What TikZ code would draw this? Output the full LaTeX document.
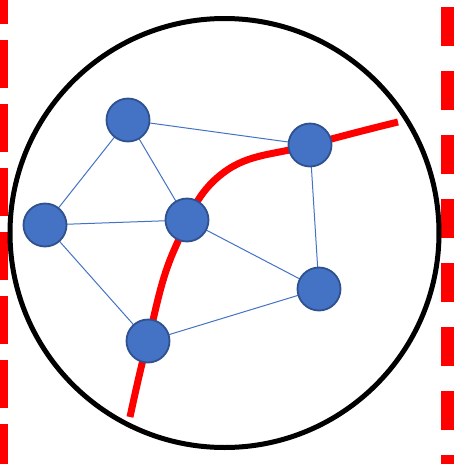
\documentclass[tikz,border=0pt]{standalone}
\definecolor{nodeblue}{HTML}{4472C4}
\definecolor{nodeborder}{HTML}{2F528F}
\begin{document}
\begin{tikzpicture}[x=1pt,y=-1pt,
  vertex/.style={circle,fill=nodeblue,draw=nodeborder,line width=1.8pt,minimum size=43pt,inner sep=0pt},
  link/.style={draw=nodeblue,line width=1pt},
  redline/.style={draw=red,line width=7pt}]
\useasboundingbox (0,0) rectangle (454,464);
\fill[white] (0,0) rectangle (454,464);
% dashed borders
\draw[red,line width=8pt,dash pattern=on 48pt off 16pt,dash phase=24pt] (4,0) -- (4,464);
\draw[red,line width=13pt,dash pattern=on 39pt off 25pt,dash phase=57pt] (447.5,0) -- (447.5,464);
% big circle
\draw[black,line width=5pt] (224.5,233) circle[radius=214.5];
% coordinates of nodes
\coordinate (pa) at (128,120);
\coordinate (pb) at (310,145);
\coordinate (pc) at (45,225);
\coordinate (pd) at (187,220);
\coordinate (pe) at (319,289);
\coordinate (pf) at (148,341);
% edges
\draw[link] (pa) -- (pb);
\draw[link] (pa) -- (pc);
\draw[link] (pa) -- (pd);
\draw[link] (pc) -- (pd);
\draw[link] (pc) -- (pf);
\draw[link] (pd) -- (pe);
\draw[link] (pb) -- (pe);
\draw[link] (pf) -- (pe);
% red curve
\draw[redline] plot[smooth,tension=0.7] coordinates {(130,417) (148,340) (175,248) (223,173) (310,145) (398,122)};
% nodes
\node[vertex] (a) at (pa) {};
\node[vertex] (b) at (pb) {};
\node[vertex] (c) at (pc) {};
\node[vertex] (d) at (pd) {};
\node[vertex] (e) at (pe) {};
\node[vertex] (f) at (pf) {};
\end{tikzpicture}
\end{document}
